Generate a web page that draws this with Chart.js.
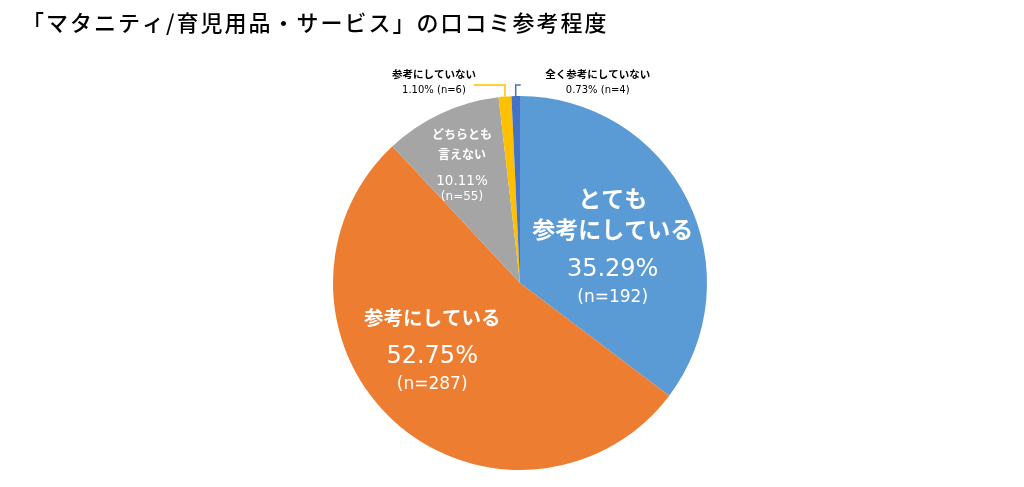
<!DOCTYPE html>
<html>
<head>
  <meta charset="utf-8">
  <title>マタニティ/育児用品・サービス 口コミ参考程度</title>
  <script src="https://cdn.jsdelivr.net/npm/chart.js"></script>
  <style>
    body { margin: 0; background: #fff; }
  </style>
</head>
<body>
  <canvas id="chartKuchikomi" width="1024" height="487"></canvas>

  <script>
    const chartTitle = '「マタニティ/育児用品・サービス」の口コミ参考程度';
    const categories = ['とても参考にしている', '参考にしている', 'どちらとも言えない', '参考にしていない', '全く参考にしていない'];
    const nameLines = [['とても', '参考にしている'], ['参考にしている'], ['どちらとも', '言えない'], ['参考にしていない'], ['全く参考にしていない']];
    const percentages = [35.29, 52.75, 10.11, 1.10, 0.73];
    const counts = [192, 287, 55, 6, 4];
    const colors = ['#5B9BD5', '#ED7D31', '#A5A5A5', '#FFC000', '#4472C4'];

    const jp = '"Noto Sans CJK JP", "Noto Sans", sans-serif';
    const num = '"DejaVu Sans", sans-serif';

    // label placement per slice (radius fraction, angle tweak in degrees, line offsets)
    const labelStyle = [
      { inside: true, f: 0.53, da: 5.7, nameFont: 'bold 23px ' + jp, pctFont: '24px ' + num, nFont: '17px ' + num, offs: [-50, -19, 22, 50] },
      { inside: true, f: 0.59, da: 10.7, nameFont: 'bold 19.5px ' + jp, pctFont: '24px ' + num, nFont: '17px ' + num, offs: [-32, 7, 35] },
      { inside: true, f: 0.70, da: -1.5, nameFont: 'bold 12px ' + jp, pctFont: '13.5px ' + num, nFont: '12px ' + num, offs: [-31, -11, 16, 31] },
      { inside: false, side: -1, lineLen: 31, textDx: -71 },
      { inside: false, side: 1, lineLen: 5, textDx: 82 }
    ];

    const labelPlugin = {
      id: 'sliceLabels',
      afterDraw(chart) {
        const ctx = chart.ctx;
        ctx.save();
        ctx.fillStyle = '#000';
        ctx.font = '500 22px ' + jp;
        ctx.letterSpacing = '2px';
        ctx.textAlign = 'left';
        ctx.textBaseline = 'middle';
        ctx.fillText(chartTitle, 22, 23);
        ctx.letterSpacing = '0px';

        const arcs = chart.getDatasetMeta(0).data;
        arcs.forEach((arc, i) => {
          const st = labelStyle[i];
          const mid = (arc.startAngle + arc.endAngle) / 2;
          const r = arc.outerRadius;
          const pct = percentages[i].toFixed(2) + '%';
          const nTxt = '(n=' + counts[i] + ')';
          ctx.textAlign = 'center';
          ctx.textBaseline = 'middle';
          if (st.inside) {
            const a = mid + st.da * Math.PI / 180;
            const lx = arc.x + Math.cos(a) * r * st.f;
            const ly = arc.y + Math.sin(a) * r * st.f;
            ctx.fillStyle = '#fff';
            const lines = nameLines[i].map(t => [t, st.nameFont]);
            lines.push([pct, st.pctFont]);
            lines.push([nTxt, st.nFont]);
            lines.forEach((ln, k) => {
              ctx.font = ln[1];
              ctx.fillText(ln[0], lx, ly + st.offs[k]);
            });
          } else {
            const ex = arc.x + Math.cos(mid) * r;
            const ey = arc.y + Math.sin(mid) * r;
            const elbowY = arc.y - r - 11;
            ctx.strokeStyle = colors[i];
            ctx.lineWidth = 1.5;
            ctx.beginPath();
            ctx.moveTo(ex, ey);
            ctx.lineTo(ex, elbowY);
            ctx.lineTo(ex + st.side * st.lineLen, elbowY);
            ctx.stroke();
            ctx.fillStyle = '#000';
            ctx.font = 'bold 10.5px ' + jp;
            ctx.fillText(nameLines[i][0], ex + st.textDx, elbowY - 11);
            ctx.font = '10px ' + num;
            ctx.fillText(pct + ' ' + nTxt, ex + st.textDx, elbowY + 5);
          }
        });
        ctx.restore();
      }
    };

    const ctx = document.getElementById('chartKuchikomi').getContext('2d');
    new Chart(ctx, {
      type: 'pie',
      data: {
        labels: categories,
        datasets: [{
          data: percentages,
          backgroundColor: colors,
          borderWidth: 0
        }]
      },
      options: {
        responsive: false,
        animation: false,
        layout: { padding: { top: 96, bottom: 17, left: 333, right: 317 } },
        plugins: {
          legend: { display: false },
          tooltip: { enabled: false }
        }
      },
      plugins: [labelPlugin]
    });
  </script>
</body>
</html>
